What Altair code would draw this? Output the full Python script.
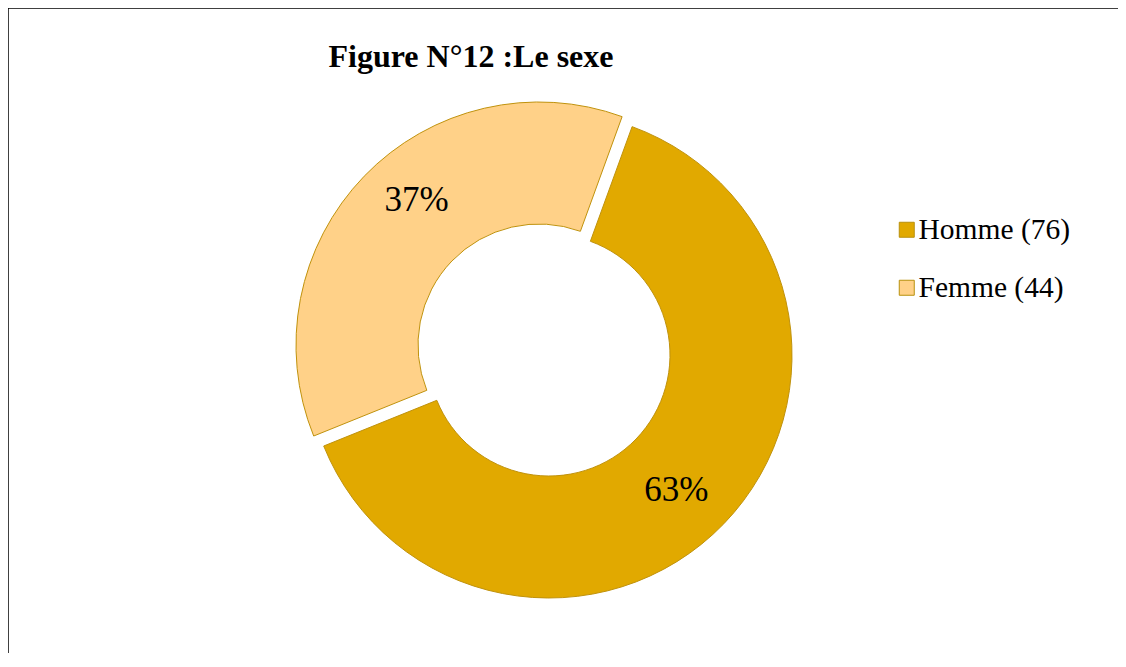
import altair as alt
import pandas as pd
import math

# ---- data ----
categories = ["Homme", "Femme"]
counts = [76, 44]
order = [1, 2]
colors = ["#E1A900", "#FFD188"]
title_text = ["Figure N°12 :Le sexe"]

df = pd.DataFrame({"cat": categories, "value": counts, "order": order})
df["label"] = [f"{c} ({v})" for c, v in zip(categories, counts)]
total = sum(counts)

start_rad = math.radians(20)
theta_scale = alt.Scale(domain=[0, total], range=[start_rad, start_rad + 2 * math.pi])
legend_labels = list(df["label"])

W, H = 1110, 645
CX, CY = 536, 342
R_OUT, R_IN = 243, 121
R_LAB = 184
SERIF = "Liberation Serif"

base = (
    alt.Chart(df)
    .transform_window(end="sum(value)", sort=[alt.SortField("order")], frame=[None, 0])
    .transform_joinaggregate(tot="sum(value)")
    .transform_calculate(
        start="datum.end - datum.value",
        mid="datum.end - datum.value / 2",
        pct="round(datum.value / datum.tot * 100) + '%'",
    )
)

color_enc = alt.Color(
    "label:N",
    scale=alt.Scale(domain=legend_labels, range=colors),
    legend=alt.Legend(
        title=None,
        orient="none",
        legendX=884,
        legendY=207,
        symbolType="square",
        symbolSize=225,
        symbolStrokeColor="#B8900C",
        symbolStrokeWidth=1,
        symbolOpacity=1,
        labelFont=SERIF,
        labelFontSize=29.5,
        labelColor="#000000",
        labelOffset={"expr": "-3"},
        rowPadding=27,
        padding=0,
        labelLimit=400,
    ),
)

def arc_layer(cat, off):
    return (
        base.transform_filter(alt.datum.cat == cat)
        .mark_arc(
            radius=R_OUT, radius2=R_IN, xOffset=off, yOffset=off,
            stroke="#C0920C", strokeWidth=1, opacity=1,
        )
        .encode(
            theta=alt.Theta("start:Q", stack=None, scale=theta_scale),
            theta2="end:Q",
            color=color_enc,
            x=alt.value(CX),
            y=alt.value(CY),
        )
    )

def text_layer(cat, off, dx, dy):
    return (
        base.transform_filter(alt.datum.cat == cat)
        .mark_text(
            radius=R_LAB, xOffset=off, yOffset=off, dx=dx, dy=dy,
            font=SERIF, fontSize=35, color="#000000",
            align="center", baseline="alphabetic",
        )
        .encode(
            theta=alt.Theta("mid:Q", stack=None, scale=theta_scale),
            text="pct:N",
            x=alt.value(CX),
            y=alt.value(CY),
        )
    )

title_layer = (
    alt.Chart(pd.DataFrame({"t": title_text}))
    .mark_text(font=SERIF, fontSize=32, fontWeight="bold", color="#000000",
               align="center", baseline="alphabetic")
    .encode(text="t:N", x=alt.value(463), y=alt.value(59))
)

# chart frame: top and left edges only (the reference frame runs off the page)
frame_top = (
    alt.Chart(pd.DataFrame({"k": [0]}))
    .mark_rule(color="#000000", strokeWidth=1.5)
    .encode(x=alt.value(0), x2=alt.value(W), y=alt.value(0))
)
frame_left = (
    alt.Chart(pd.DataFrame({"k": [0]}))
    .mark_rule(color="#000000", strokeWidth=1.5)
    .encode(x=alt.value(0), y=alt.value(0), y2=alt.value(H))
)

chart = (
    alt.layer(
        arc_layer("Homme", 5),
        arc_layer("Femme", -5),
        text_layer("Homme", 5, -5, 18),
        text_layer("Femme", -5, 10, -6),
        title_layer,
        frame_top,
        frame_left,
    )
    .properties(width=W, height=H, background="white", padding=0,
                autosize=alt.AutoSizeParams(type="none"))
    .configure_view(stroke=None)
)

chart.save("out.html", embed_options={"renderer": "svg", "actions": False})
